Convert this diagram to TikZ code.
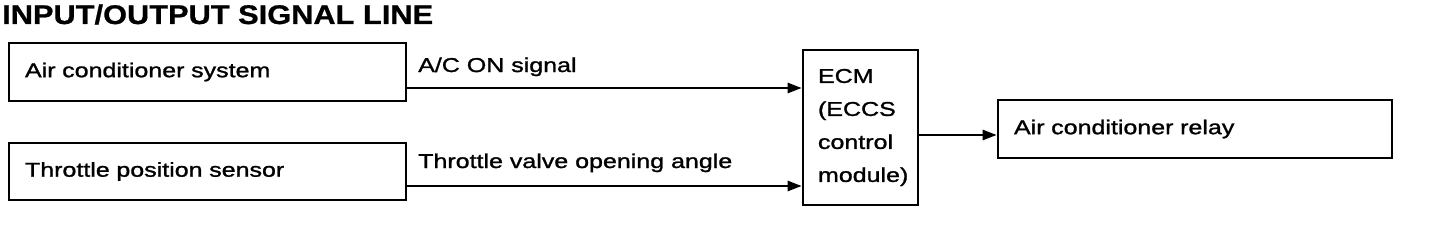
\documentclass[tikz,border=0pt]{standalone}
\usepackage{fontspec}
\setmainfont{Liberation Sans}[FakeStretch=1.25, FakeBold=1.3]
\newfontfamily\headfont{Liberation Sans}[FakeStretch=1.14, FakeBold=0.8]
\usetikzlibrary{arrows.meta}

\begin{document}
\begin{tikzpicture}[x=1pt, y=-1pt, line join=miter, >={Triangle[length=14pt,width=10pt]},
		blk/.style={draw, line width=2.6pt, align=left, font=\fontsize{20}{33}\selectfont, inner ysep=0pt},
		sig/.style={->, line width=2.4pt},
		lbl/.style={anchor=base west, inner sep=0pt, font=\fontsize{20}{24}\selectfont}]
			\useasboundingbox (0,0) rectangle (1440,238);
			
			\node[anchor=base west, inner sep=0pt, font=\headfont\bfseries\fontsize{27}{30}\selectfont] (title) at (2,24) {INPUT/OUTPUT SIGNAL LINE};
			
			\node[blk, text width=365pt, inner xsep=16pt, minimum height=58pt] (acsys) at (207.5,72) {Air conditioner system};
			\node[blk, text width=365pt, inner xsep=16pt, minimum height=57pt] (tps) at (207.5,171.5) {Throttle position sensor};
			\node[blk, text width=85pt, inner xsep=15pt, minimum height=155pt] (ecm) at (860.5,127.5) {ECM\\(ECCS\\control\\module)};
			\node[blk, text width=362pt, inner xsep=16pt, minimum height=58pt] (relay) at (1195,129) {Air conditioner relay};
			
			\coordinate (s1) at ([yshift=-16pt]acsys.east);
			\coordinate (s2) at ([yshift=-14.5pt]tps.east);
			\coordinate (s3) at ([yshift=-7.5pt]ecm.east);
			
			\draw[sig] (s1) -- (s1 -| ecm.west);
			\draw[sig] (s2) -- (s2 -| ecm.west);
			\draw[sig] (s3) -- (s3 -| relay.west);
			
			\node[lbl] (l1) at (418,72) {A/C ON signal};
			\node[lbl] (l2) at (418,168) {Throttle valve opening angle};
		\end{tikzpicture}
\end{document}
